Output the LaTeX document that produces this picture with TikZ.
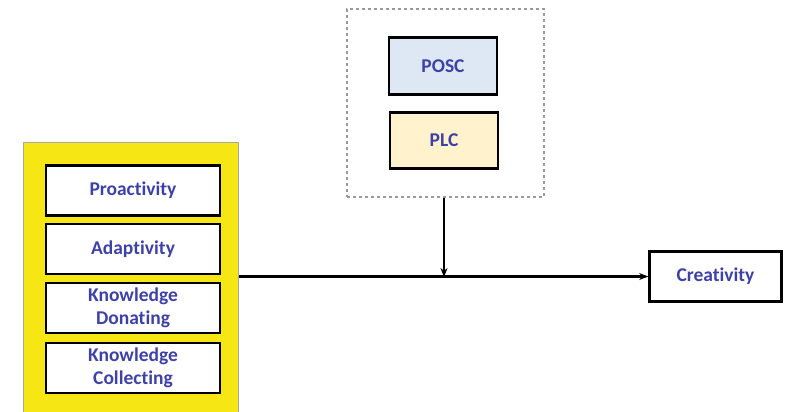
\documentclass[tikz,border=0pt]{standalone}
\usepackage{fontspec}
\setmainfont[Ligatures=NoCommon]{Carlito}
\usetikzlibrary{arrows.meta}
\definecolor{txtblue}{HTML}{3E42A6}
\definecolor{panelyellow}{HTML}{F5E614}
\definecolor{poscfill}{HTML}{DEE8F4}
\definecolor{plcfill}{HTML}{FFF2CC}
\tikzset{
  px/.style={x=1pt,y=-1pt},
  labelfont/.style={font=\fontsize{19.5}{23.5}\selectfont\bfseries,text=txtblue},
  varbox/.style={draw=black,line width=2.6pt,fill=white,minimum width=174pt,minimum height=50pt,
    align=center,labelfont,inner sep=0pt},
  modbox/.style={draw=black,line width=2.6pt,minimum width=108pt,minimum height=56pt,
    align=center,labelfont,inner sep=0pt},
  link/.style={line width=2.2pt,draw=black},
  tip/.style={-{Stealth[length=9pt,width=7pt]}}
}
\begin{document}
\begin{tikzpicture}[px]
\useasboundingbox (0,0) rectangle (785,412);
% predictor panel
\node[draw=gray!70,line width=1pt,fill=panelyellow,minimum width=215pt,minimum height=280pt,inner sep=0pt,anchor=north west]
  (panel) at (23,142) {};
\node[varbox] (pro) at (133,190.5) {Proactivity};
\node[varbox] (ada) at (133,249) {Adaptivity};
\node[varbox] (don) at (133,308) {Knowledge\\Donating};
\node[varbox] (col) at (133,368) {Knowledge\\Collecting};
% moderators
\node[draw=gray!80,dashed,line width=1.1pt,minimum width=197pt,minimum height=188pt,inner sep=0pt]
  (mod) at (445.5,103) {};
\node[modbox,fill=poscfill,minimum height=57pt] (posc) at (443,66) {POSC};
\node[modbox,fill=plcfill,minimum height=56pt] (plc) at (444,140.5) {PLC};
% outcome
\node[varbox,minimum width=132pt,minimum height=50pt] (cre) at (715.5,276.5) {Creativity};
% paths
\coordinate (join) at (444,277);
\draw[link,tip] (panel.east |- cre.west) -- (cre.west);
\draw[link,tip] (mod.south -| join) -- (join);
\end{tikzpicture}
\end{document}
